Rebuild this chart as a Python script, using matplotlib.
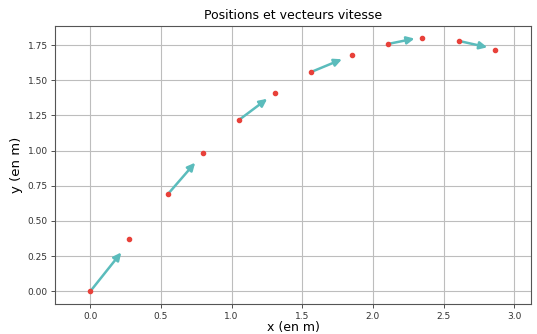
import matplotlib
matplotlib.use("Agg")
import matplotlib.pyplot as plt

x = [0.0, 0.276, 0.552, 0.80, 1.054, 1.31, 1.564, 1.854, 2.109, 2.35, 2.61, 2.866]
y = [0.0, 0.368, 0.694, 0.985, 1.219, 1.41, 1.559, 1.68, 1.758, 1.80, 1.779, 1.715]

# velocity vectors drawn at every other point
vx = [0.219, 0.19, 0.198, 0.217, 0.186, 0.20]
vy = [0.276, 0.22, 0.149, 0.09, 0.038, -0.045]

fig = plt.figure(figsize=(5.37, 3.34), dpi=100)
ax = fig.add_axes([0.103, 0.090, 0.886, 0.832])

for i, (u, v) in enumerate(zip(vx, vy)):
    x0, y0 = x[2 * i], y[2 * i]
    ax.annotate("", xy=(x0 + u, y0 + v), xytext=(x0, y0),
                arrowprops=dict(arrowstyle="-|>,head_length=0.45,head_width=0.22",
                                color="#5bbcbc", lw=1.8, shrinkA=0, shrinkB=0),
                zorder=2)

ax.scatter(x, y, s=9, color="#e8413a", zorder=3)

ax.set_xlim(-0.248, 3.12)
ax.set_ylim(-0.09, 1.885)
ax.set_xticks([0.0, 0.5, 1.0, 1.5, 2.0, 2.5, 3.0])
ax.set_yticks([0.0, 0.25, 0.5, 0.75, 1.0, 1.25, 1.5, 1.75])
ax.set_yticklabels(["0.00", "0.25", "0.50", "0.75", "1.00", "1.25", "1.50", "1.75"])
ax.grid(True, color="#bdbdbd", lw=0.8)
ax.set_axisbelow(True)
ax.tick_params(labelsize=6.5, colors="#333333", length=3, width=0.6, pad=2.5)
for s in ax.spines.values():
    s.set_color("#555555")
    s.set_linewidth(0.8)
ax.set_title("Positions et vecteurs vitesse", fontsize=9, pad=5)
ax.set_xlabel("x (en m)", fontsize=9, labelpad=0.5)
ax.set_ylabel("y (en m)", fontsize=9.5, labelpad=3)

fig.savefig("out.png", dpi=100)
